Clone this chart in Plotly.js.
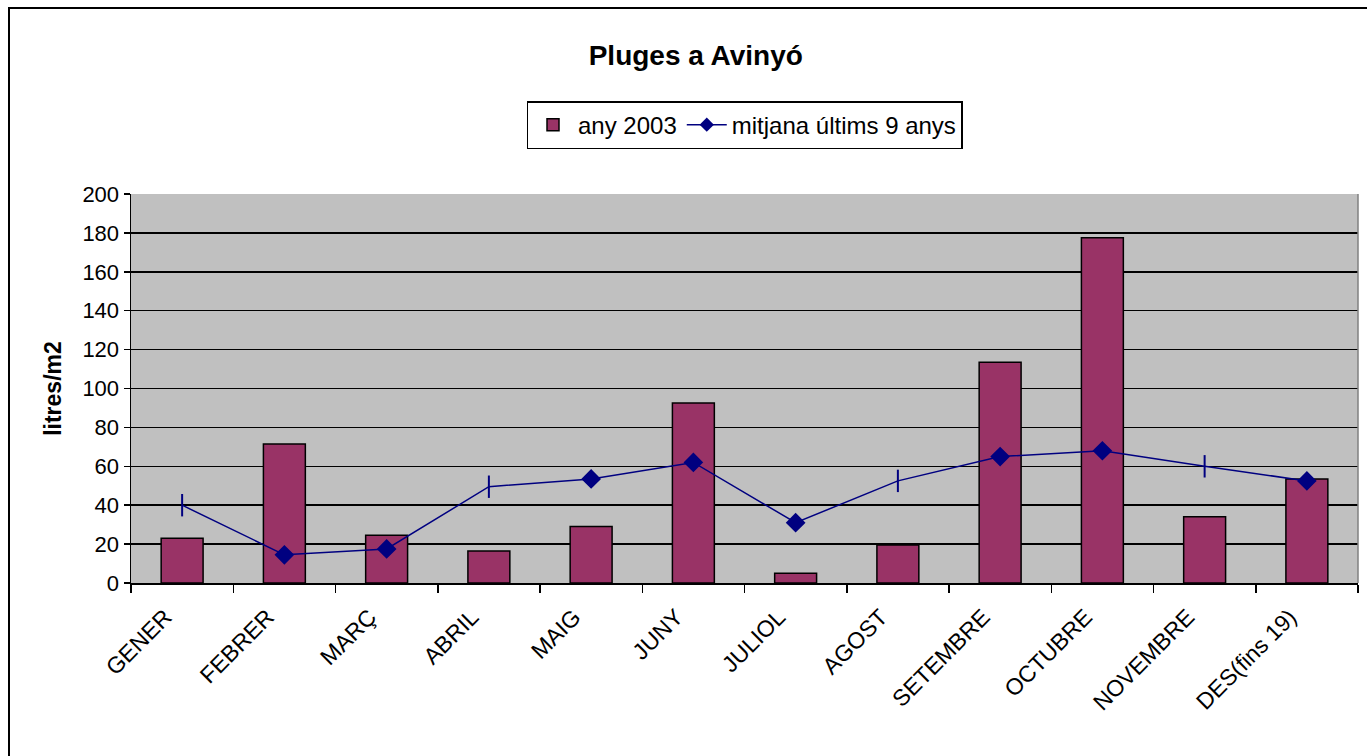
<!DOCTYPE html>
<html>
<head>
<meta charset="utf-8">
<script src="https://cdn.plot.ly/plotly-3.0.1.min.js"></script>
<style>
html,body{margin:0;padding:0;background:#fff;overflow:hidden;}
#chart{position:absolute;left:0;top:0;width:1367px;height:756px;}
#frame{position:absolute;left:8px;top:7px;width:1400px;height:800px;border-left:2px solid #000;border-top:2px solid #000;pointer-events:none;}
</style>
</head>
<body>
<div id="chart"></div>
<div id="frame"></div>
<script>
const months = ["GENER","FEBRER","MARÇ","ABRIL","MAIG","JUNY","JULIOL","AGOST","SETEMBRE","OCTUBRE","NOVEMBRE","DES(fins 19)"];
const rain2003 = [23, 71.5, 24.5, 16.5, 29, 92.5, 5, 19.5, 113.5, 177.5, 34, 53.5];
const avg9 = [40, 14.5, 17.5, 49.5, 53.5, 62, 31, 52.5, 65, 68, 60, 52.5];
const yTicks = [0,20,40,60,80,100,120,140,160,180,200];

const F = "Liberation Sans, Arial, sans-serif";
const symbols = ["line-ns","diamond","diamond","line-ns","diamond","diamond","diamond","line-ns","diamond","diamond","line-ns","diamond"];
const sizes = [16,13,13,16,13,13,13,16,13,13,16,13];

const traces = [
  {type:"bar", name:"any 2003", x:months, y:rain2003,
   marker:{color:"#993366", line:{color:"#000", width:1.5}}},
  {type:"scatter", mode:"lines+markers", name:"mitjana últims 9 anys", x:months, y:avg9,
   showlegend:false, opacity:1,
   line:{color:"#000080", width:1.5},
   marker:{color:"#000080", opacity:1, symbol:symbols, size:sizes, line:{color:"#000080", width:2}}},
  {type:"scatter", mode:"lines+markers", name:"mitjana últims 9 anys", x:[null], y:[null],
   line:{color:"#000080", width:1.5},
   marker:{color:"#000080", symbol:"diamond", size:11}}
];

const layout = {
  width:1367, height:756,
  margin:{l:131, r:9, t:194, b:173},
  paper_bgcolor:"rgba(0,0,0,0)",
  plot_bgcolor:"#C0C0C0",
  bargap:0.59,
  font:{family:F, color:"#000", size:22},
  title:{text:"<b>Pluges a Avinyó</b>", font:{family:F, size:28, color:"#000"},
         x:0.509, xref:"container", xanchor:"center", y:0.927, yref:"container", yanchor:"middle"},
  showlegend:true,
  legend:{orientation:"h", x:0.5, xanchor:"center", y:1.239, yanchor:"top",
          bgcolor:"#fff", bordercolor:"#000", borderwidth:1.5,
          font:{family:F, size:24, color:"#000"}, traceorder:"normal", itemwidth:40,
          tracegroupgap:0},
  xaxis:{type:"category", range:[-0.5, 11.5], tickangle:-45, ticks:"outside", tickson:"boundaries", ticklen:8,
         tickcolor:"#000", tickwidth:1.5, showline:true, linecolor:"#000", linewidth:1.5,
         showgrid:false, tickfont:{family:F, size:23, color:"#000"}, mirror:false,
         ticklabelshift:-17, ticklabelstandoff:10,
         automargin:false},
  yaxis:{range:[0,200], tickvals:yTicks, ticktext:yTicks.map(String), ticks:"outside", ticklen:6,
         tickcolor:"#000", tickwidth:1.5, showline:true, linecolor:"#000", linewidth:1.5,
         showgrid:true, gridcolor:"#000", gridwidth:1.5, zeroline:false,
         tickfont:{family:F, size:22, color:"#000"}, automargin:false,
         title:{text:"<b>litres/m2</b>", font:{family:F, size:23, color:"#000"}, standoff:14}},
  shapes:[{type:"line", xref:"paper", yref:"paper", x0:1, x1:1, y0:0, y1:1,
           line:{color:"#808080", width:1.5}}]
};

Plotly.newPlot("chart", traces, layout, {displayModeBar:false, staticPlot:true});
</script>
</body>
</html>
